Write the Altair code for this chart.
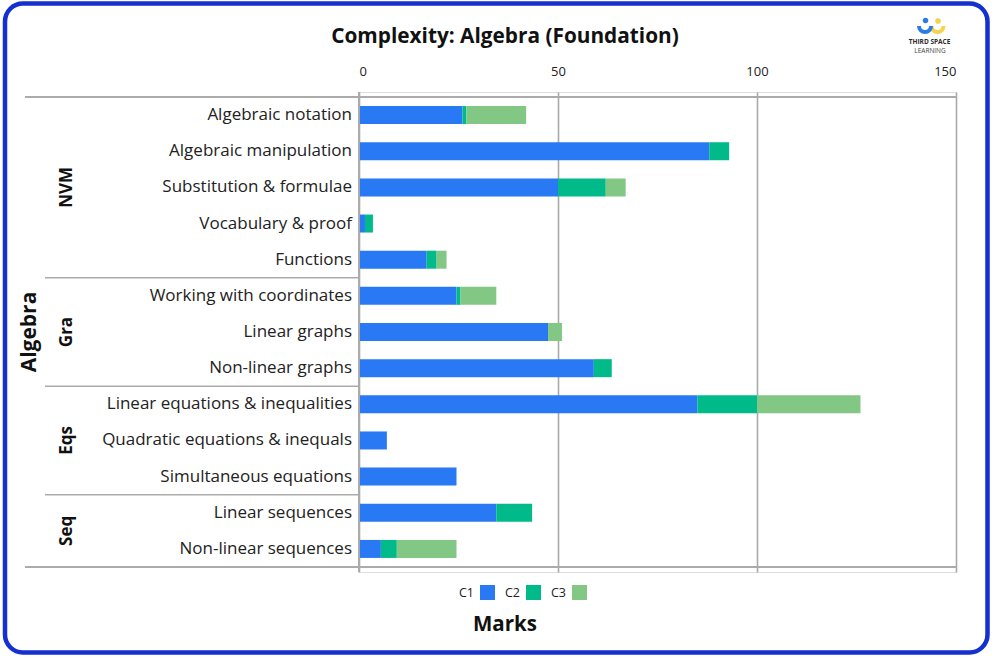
import altair as alt
import pandas as pd

topics = [
    "Algebraic notation", "Algebraic manipulation", "Substitution & formulae",
    "Vocabulary & proof", "Functions", "Working with coordinates", "Linear graphs",
    "Non-linear graphs", "Linear equations & inequalities",
    "Quadratic equations & inequals", "Simultaneous equations",
    "Linear sequences", "Non-linear sequences",
]
groups = ["NVM"] * 5 + ["Gra"] * 3 + ["Eqs"] * 3 + ["Seq"] * 2
group_names = ["NVM", "Gra", "Eqs", "Seq"]
c1 = [26, 88, 50, 1.5, 17, 24.5, 47.5, 59, 85, 7, 24.5, 34.5, 5.5]
c2 = [1, 5, 12, 2, 2.5, 1, 0, 4.5, 15, 0, 0, 9, 4]
c3 = [15, 0, 5, 0, 2.5, 9, 3.5, 0, 26, 0, 0, 0, 15]
series = ["C1", "C2", "C3"]
colors = ["#2979f5", "#00bb89", "#83c784"]
x_ticks = [0, 50, 100, 150]

FONT = "Open Sans"
W, H = 597, 480

rows = []
for i, t in enumerate(topics):
    start = 0
    for s, v in zip(series, (c1[i], c2[i], c3[i])):
        rows.append({"topic": t, "row": i + 0.5, "series": s,
                     "start": start, "end": start + v})
        start += v
bars_df = pd.DataFrame(rows)
labels_df = pd.DataFrame({"topic": topics, "row": [i + 0.5 for i in range(len(topics))]})

bounds, centers, pos = [], [], 0
for g in group_names:
    n = groups.count(g)
    centers.append(pos + n / 2)
    pos += n
    bounds.append(pos)
sep_df = pd.DataFrame({"y": bounds[:-1]})
frame_df = pd.DataFrame({"y": [0, len(topics)]})
grp_df = pd.DataFrame({"group": group_names, "y": centers})
outer_df = pd.DataFrame({"name": ["Algebra"], "y": [len(topics) / 2]})

yscale = alt.Scale(domain=[0, len(topics)], reverse=True, nice=False, zero=False)

bars = alt.Chart(bars_df).mark_bar(orient="horizontal", size=18).encode(
    x=alt.X("start:Q",
            scale=alt.Scale(domain=[0, 150], nice=False),
            axis=alt.Axis(orient="top", values=x_ticks, title=None,
                          domain=False, ticks=False,
                          labelPadding=14, labelFontSize=13, labelColor="#222",
                          labelFont=FONT, grid=True, gridColor="#a9a9a9",
                          gridWidth=1.6)),
    x2="end:Q",
    y=alt.Y("row:Q", scale=yscale, axis=None),
    color=alt.Color("series:N",
                    scale=alt.Scale(domain=series, range=colors),
                    legend=alt.Legend(title=None, orient="none", legendX=121,
                                      legendY=493, direction="horizontal",
                                      symbolType="square", symbolSize=225,
                                      symbolStrokeWidth=0, symbolOpacity=1,
                                      labelFontSize=12.5, labelFont=FONT,
                                      labelColor="#222", labelAlign="right",
                                      labelOffset={"expr": "-21"}, columnPadding=9)),
)

sep = alt.Chart(sep_df).mark_rule(color="#ababab", strokeWidth=1.6).encode(
    y=alt.Y("y:Q", scale=yscale, axis=None),
    x=alt.value(-314), x2=alt.value(0),
)
frame = alt.Chart(frame_df).mark_rule(color="#ababab", strokeWidth=1.8).encode(
    y=alt.Y("y:Q", scale=yscale, axis=None),
    x=alt.value(-334), x2=alt.value(W),
)
yaxis_line = alt.Chart(frame_df).mark_rule(color="#ababab", strokeWidth=1.6).encode(
    y=alt.value(0), y2=alt.value(H), x=alt.value(0),
)

item_labels = alt.Chart(labels_df).mark_text(
    align="right", baseline="middle", fontSize=17, font=FONT, color="#222"
).encode(
    y=alt.Y("row:Q", scale=yscale, axis=None),
    x=alt.value(-7),
    text="topic:N",
)
grp_labels = alt.Chart(grp_df).mark_text(
    align="center", baseline="middle", angle=270, fontSize=17,
    fontWeight="bold", font=FONT, color="#111"
).encode(
    y=alt.Y("y:Q", scale=yscale, axis=None),
    x=alt.value(-292),
    text="group:N",
)
outer_label = alt.Chart(outer_df).mark_text(
    align="center", baseline="middle", angle=270, fontSize=21,
    fontWeight="bold", font=FONT, color="#111"
).encode(
    y=alt.Y("y:Q", scale=yscale, axis=None),
    x=alt.value(-329),
    text="name:N",
)

misc_df = pd.DataFrame({"t": ["Complexity: Algebra (Foundation)"]})
title = alt.Chart(misc_df).mark_text(
    align="center", baseline="middle", fontSize=20.8, fontWeight="bold",
    font=FONT, color="#111"
).encode(x=alt.value(146), y=alt.value(-55), text="t:N")

xt_df = pd.DataFrame({"t": ["Marks"]})
xtitle = alt.Chart(xt_df).mark_text(
    align="center", baseline="middle", fontSize=20.5, fontWeight="bold",
    font=FONT, color="#111"
).encode(x=alt.value(146), y=alt.value(533), text="t:N")

# logo
logo1 = alt.Chart(pd.DataFrame({"t": ["THIRD SPACE"]})).mark_text(
    align="center", baseline="middle", fontSize=6.5, fontWeight="bold",
    font=FONT, color="#2b2b2b"
).encode(x=alt.value(570.5), y=alt.value(-50.5), text="t:N")
logo2 = alt.Chart(pd.DataFrame({"t": ["LEARNING"]})).mark_text(
    align="center", baseline="middle", fontSize=6.5, font=FONT, color="#444"
).encode(x=alt.value(571), y=alt.value(-41), text="t:N")
dot_b = alt.Chart(pd.DataFrame({"t": [1]})).mark_circle(size=30, color="#2d7be5", opacity=1).encode(
    x=alt.value(566.5), y=alt.value(-71.5))
dot_y = alt.Chart(pd.DataFrame({"t": [1]})).mark_circle(size=32, color="#f2d24e", opacity=1).encode(
    x=alt.value(579), y=alt.value(-71))
arc_b = alt.Chart(pd.DataFrame({"t": [1]})).mark_arc(color="#2d7be5").encode(
    x=alt.value(566), y=alt.value(-66), radius=alt.value(8), radius2=alt.value(4),
    theta=alt.value(1.57), theta2=alt.value(4.71))
arc_y = alt.Chart(pd.DataFrame({"t": [1]})).mark_arc(color="#f2d24e").encode(
    x=alt.value(578.5), y=alt.value(-66), radius=alt.value(8), radius2=alt.value(4),
    theta=alt.value(1.57), theta2=alt.value(4.71))

border = alt.Chart(pd.DataFrame({"t": [1]})).mark_rect(
    fillOpacity=0, stroke="#1530d0", strokeWidth=4.5, cornerRadius=18
).encode(x=alt.value(-354), x2=alt.value(628.5), y=alt.value(-88.5), y2=alt.value(560.5))

chart = alt.layer(
    bars, sep, frame, yaxis_line, item_labels, grp_labels, outer_label,
    title, xtitle, arc_y, arc_b, dot_b, dot_y, logo1, logo2, border
).properties(
    width=W, height=H,
    autosize=alt.AutoSizeParams(type="none"),
    padding={"left": 359, "top": 92, "right": 37, "bottom": 88},
).configure_view(stroke=None).configure(background="white")

chart.save("out.html", embed_options={"renderer": "svg", "actions": False})
